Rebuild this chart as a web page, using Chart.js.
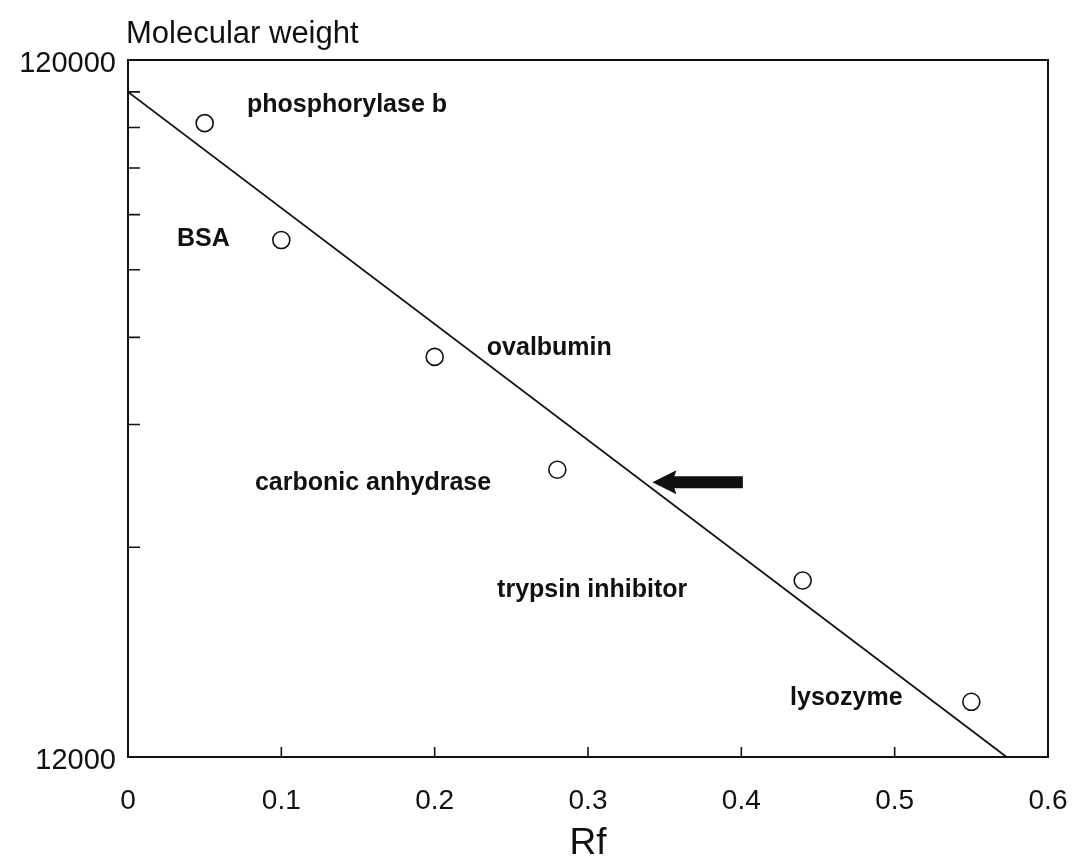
<!DOCTYPE html>
<html><head><meta charset="utf-8">
<script src="https://cdn.jsdelivr.net/npm/chart.js@4.4.0/dist/chart.umd.min.js"></script>
<style>html,body{margin:0;padding:0;background:#fff;}#wrap{width:1074px;height:864px;}</style>
</head><body><div id="wrap"><canvas id="c" width="1074" height="864"></canvas></div>
<script>
// ---- data ----
const proteins = ['phosphorylase b', 'BSA', 'ovalbumin', 'carbonic anhydrase', 'trypsin inhibitor', 'lysozyme'];
const rfValues = [0.05, 0.10, 0.20, 0.28, 0.44, 0.55];
const mwValues = [97400, 66200, 45000, 31000, 21500, 14400];
const fitRf = [0, 0.573];
const fitMw = [108000, 12000];
const arrowRf = [0.401, 0.342];   // tail, tip
const arrowMw = [29750, 29750];
const xTicks = [0, 0.1, 0.2, 0.3, 0.4, 0.5, 0.6];
const xTickLabels = ['0', '0.1', '0.2', '0.3', '0.4', '0.5', '0.6'];
const yTicks = [12000, 24000, 36000, 48000, 60000, 72000, 84000, 96000, 108000, 120000];
const yTickLabels = ['12000', '', '', '', '', '', '', '', '', '120000'];
// label anchor (left edge, vertical centre) in data units
const labelRf = [0.0776, 0.032, 0.234, 0.0828, 0.2407, 0.4318];
const labelMw = [103400, 66450, 46300, 29670, 20830, 14580];

const FONT = '"Liberation Sans", Arial, Helvetica, sans-serif';
const INK = '#111';

const decor = {
  id: 'decor',
  afterDatasetsDraw(chart) {
    const ctx = chart.ctx, a = chart.chartArea;
    const xs = chart.scales.x, ys = chart.scales.y;
    ctx.save();
    // frame
    ctx.strokeStyle = INK; ctx.lineWidth = 2;
    ctx.strokeRect(a.left, a.top, a.right - a.left, a.bottom - a.top);
    // inward ticks
    ctx.lineWidth = 1.6;
    ctx.beginPath();
    yTicks.forEach(v => {
      if (v === 12000 || v === 120000) return;
      const y = ys.getPixelForValue(v);
      ctx.moveTo(a.left, y); ctx.lineTo(a.left + 12, y);
    });
    xTicks.forEach(v => {
      if (v === 0 || v === 0.6) return;
      const x = xs.getPixelForValue(v);
      ctx.moveTo(x, a.bottom); ctx.lineTo(x, a.bottom - 10);
    });
    ctx.stroke();
    // protein labels
    ctx.fillStyle = INK;
    ctx.font = 'bold 25px ' + FONT;
    ctx.textAlign = 'left'; ctx.textBaseline = 'middle';
    proteins.forEach((p, i) => {
      ctx.fillText(p, xs.getPixelForValue(labelRf[i]), ys.getPixelForValue(labelMw[i]));
    });
    // arrow
    const tx = xs.getPixelForValue(arrowRf[0]), hx = xs.getPixelForValue(arrowRf[1]);
    const ay = ys.getPixelForValue(arrowMw[1]);
    ctx.beginPath();
    ctx.moveTo(hx, ay);
    ctx.lineTo(hx + 24, ay - 12);
    ctx.lineTo(hx + 22, ay - 6);
    ctx.lineTo(tx, ay - 6);
    ctx.lineTo(tx, ay + 6);
    ctx.lineTo(hx + 22, ay + 6);
    ctx.lineTo(hx + 24, ay + 12);
    ctx.closePath();
    ctx.fill();
    // y axis title
    ctx.font = '31px ' + FONT;
    ctx.textAlign = 'left'; ctx.textBaseline = 'alphabetic';
    ctx.fillText('Molecular weight', a.left - 2, a.top - 17);
    ctx.restore();
  }
};

new Chart(document.getElementById('c'), {
  data: {
    datasets: [
      {
        type: 'scatter',
        data: rfValues.map((r, i) => ({ x: r, y: mwValues[i] })),
        pointRadius: 8.5, pointHoverRadius: 8.5,
        pointBorderWidth: 1.6, borderColor: INK, backgroundColor: '#fff',
        pointStyle: 'circle', order: 1
      },
      {
        type: 'line',
        data: fitRf.map((r, i) => ({ x: r, y: fitMw[i] })),
        borderColor: INK, borderWidth: 1.8, pointRadius: 0, fill: false,
        tension: 0, order: 2
      }
    ]
  },
  options: {
    responsive: false, animation: false, devicePixelRatio: 1,
    layout: { autoPadding: false, padding: { left: 0, right: 26, top: 60, bottom: 0 } },
    plugins: { legend: { display: false }, tooltip: { enabled: false }, title: { display: false } },
    scales: {
      x: {
        type: 'linear', min: 0, max: 0.6,
        afterBuildTicks(s) { s.ticks = xTicks.map(v => ({ value: v })); },
        afterFit(s) { s.height = 107; s.paddingLeft = 0; s.paddingRight = 0; },
        grid: { display: false, drawTicks: false },
        border: { display: false },
        ticks: {
          padding: 27, color: INK, font: { family: FONT, size: 28 },
          maxRotation: 0, autoSkip: false,
          callback(v, i) { return xTickLabels[i]; }
        },
        title: { display: true, text: 'Rf', color: INK, font: { family: FONT, size: 37, lineHeight: 1.1 }, padding: 0 }
      },
      y: {
        type: 'logarithmic', min: 12000, max: 120000,
        afterBuildTicks(s) { s.ticks = yTicks.map(v => ({ value: v })); },
        afterFit(s) { s.width = 128; s.paddingTop = 0; s.paddingBottom = 0; },
        grid: { display: false, drawTicks: false },
        border: { display: false },
        ticks: {
          padding: 12, color: INK, font: { family: FONT, size: 29 }, labelOffset: 4,
          autoSkip: false,
          callback(v, i) { return yTickLabels[i]; }
        }
      }
    }
  },
  plugins: [decor]
});
</script></body></html>
